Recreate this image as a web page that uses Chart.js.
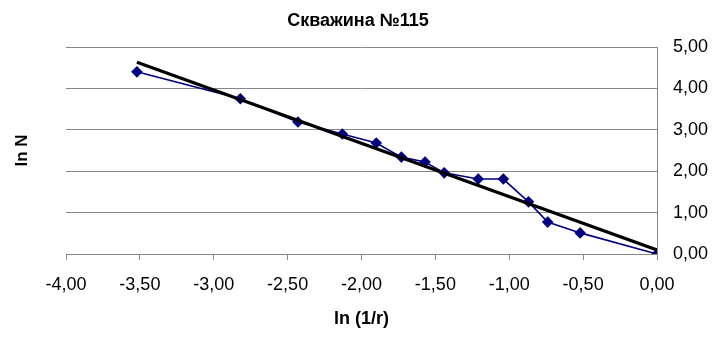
<!DOCTYPE html>
<html>
<head>
<meta charset="utf-8">
<title>Скважина №115</title>
<script src="https://cdn.jsdelivr.net/npm/chart.js@4"></script>
<style>
  html, body { margin: 0; padding: 0; background: #ffffff; }
  #wrap { width: 716px; height: 338px; }
</style>
</head>
<body>
<div id="wrap"><canvas id="chart" width="716" height="338"></canvas></div>
<script>
// ln(1/r) and ln N for well No. 115
const lnInvR = [-3.52, -2.82, -2.43, -2.13, -1.90, -1.73, -1.57, -1.44, -1.21, -1.04, -0.87, -0.74, -0.52, 0.00];
const lnN    = [ 4.40,  3.75,  3.19,  2.90,  2.68,  2.34,  2.22,  1.96,  1.81,  1.81,  1.26,  0.77,  0.51, 0.00];

const chartTitle = 'Скважина №115';
const xTitle = 'ln (1/r)';
const yTitle = 'ln N';
const xRange = [-4, 0];
const yRange = [0, 5];

// Least-squares linear trend over the measured points
function linearFit(xs, ys) {
  const n = xs.length;
  const mx = xs.reduce((a, b) => a + b, 0) / n;
  const my = ys.reduce((a, b) => a + b, 0) / n;
  let sxy = 0, sxx = 0;
  for (let i = 0; i < n; i++) {
    sxy += (xs[i] - mx) * (ys[i] - my);
    sxx += (xs[i] - mx) * (xs[i] - mx);
  }
  const slope = sxy / sxx;
  return { slope, intercept: my - slope * mx };
}
const fit = linearFit(lnInvR, lnN);
const xLo = Math.min(...lnInvR), xHi = Math.max(...lnInvR);
const trendPoints = [xLo, xHi].map(x => ({ x, y: fit.intercept + fit.slope * x }));
const seriesPoints = lnInvR.map((x, i) => ({ x, y: lnN[i] }));

const FONT = '"Liberation Sans", Arial, Helvetica, sans-serif';
const GRID = '#878787';
const fmt = v => Number(v).toFixed(2).replace('.', ',');

new Chart(document.getElementById('chart'), {
  type: 'scatter',
  data: {
    datasets: [
      {
        label: 'Линейный тренд',
        data: trendPoints,
        showLine: true,
        borderColor: '#000000',
        borderWidth: 3.2,
        pointRadius: 0,
        order: 0
      },
      {
        label: yTitle,
        data: seriesPoints,
        showLine: true,
        borderColor: '#000080',
        backgroundColor: '#000080',
        borderWidth: 1.6,
        pointStyle: 'rectRot',
        pointRadius: 5.8,
        pointBorderWidth: 0,
        order: 1
      }
    ]
  },
  options: {
    responsive: false,
    devicePixelRatio: 1,
    animation: false,
    layout: { padding: 0 },
    plugins: {
      legend: { display: false },
      tooltip: { enabled: false },
      title: {
        display: true,
        text: chartTitle,
        color: '#000000',
        font: { family: FONT, size: 18, weight: 'bold' },
        padding: { top: 10, bottom: 15.4 }
      }
    },
    scales: {
      x: {
        type: 'linear',
        position: 'bottom',
        min: xRange[0],
        max: xRange[1],
        afterFit: s => { s.height = 84; },
        ticks: {
          stepSize: 0.5,
          color: '#000000',
          font: { family: FONT, size: 18 },
          padding: 14,
          callback: v => fmt(v)
        },
        grid: {
          drawOnChartArea: false,
          drawTicks: true,
          tickLength: 6,
          color: GRID,
          lineWidth: 1
        },
        border: { display: true, color: GRID, width: 1 },
        title: {
          display: true,
          text: xTitle,
          color: '#000000',
          font: { family: FONT, size: 18, weight: 'bold' },
          padding: { top: 0, bottom: 8 }
        }
      },
      y: {
        type: 'linear',
        position: 'right',
        min: yRange[0],
        max: yRange[1],
        afterFit: s => { s.width = 59; },
        ticks: {
          stepSize: 1,
          color: '#000000',
          font: { family: FONT, size: 18 },
          padding: 16,
          callback: v => fmt(v)
        },
        grid: {
          drawOnChartArea: true,
          drawTicks: false,
          color: GRID,
          lineWidth: 1
        },
        border: { display: true, color: GRID, width: 1 }
      },
      yTitleAxis: {
        type: 'linear',
        position: 'left',
        min: 0,
        max: 1,
        afterFit: s => { s.width = 66; },
        ticks: { display: false },
        grid: { display: false, drawTicks: false },
        border: { display: false },
        title: {
          display: true,
          text: yTitle,
          color: '#000000',
          font: { family: FONT, size: 17, weight: 'bold' },
          padding: { top: 12, bottom: 0 }
        }
      }
    }
  }
});
</script>
</body>
</html>
